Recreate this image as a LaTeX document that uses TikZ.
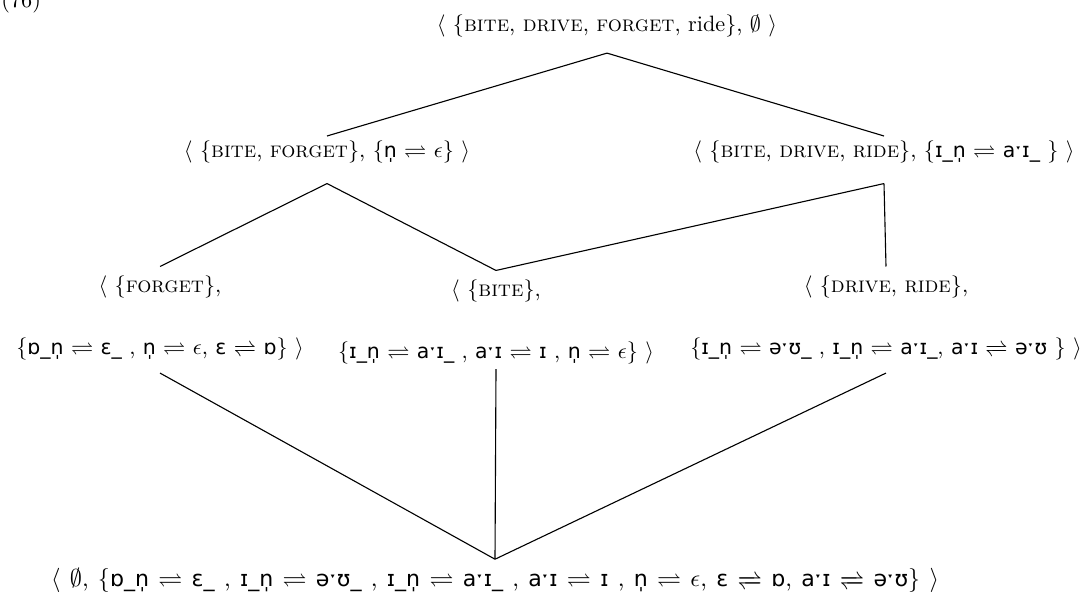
\documentclass[tikz,border=0pt]{standalone}
\usepackage{amssymb}
\usepackage{mathtools}
\usepackage{fontspec}
\usepackage{tikz}
\usetikzlibrary{positioning}
\newfontfamily\ipafont{DejaVu Sans}[Scale=0.92]
\newcommand{\ipa}[1]{{\ipafont #1}}
\newcommand{\rl}{\ $\rightleftharpoons$\ }
\newcommand{\rll}{\ $\xrightleftharpoons{\hphantom{\,}}$\ }
\newcommand{\lang}{$\langle$\ }
\newcommand{\rang}{\ $\rangle$}

\begin{document}
\begin{tikzpicture}[x=0.45pt, y=-0.45pt,
    state/.style={align=center, inner sep=2pt, font=\normalsize},
    cover/.style={line width=0.5pt}]
  \useasboundingbox (0,0) rectangle (1092,599);
  \node[anchor=base west, inner sep=0pt] (exno) at (1,8) {(76)};
  % lattice of states: set of words, set of rules
  \node[state] (Ntop) at (607,26)
    {\lang\{\textsc{bite}, \textsc{drive}, \textsc{forget}, ride\}, $\emptyset$\rang};
  \node[state] (Nbf) at (327,152)
    {\lang\{\textsc{bite}, \textsc{forget}\}, \{\ipa{n̩}\rl$\epsilon$\}\rang};
  \node[state] (Nbdr) at (884,152)
    {\lang\{\textsc{bite}, \textsc{drive}, \textsc{ride}\}, \{\ipa{ɪ\_n̩}\rl\ipa{aˑɪ\_} \}\rang};
  \node[state] (Nf) at (160,322)
    {\lang\{\textsc{forget}\},\\[16pt]
     \{\ipa{ɒ\_n̩}\rl\ipa{ɛ\_} , \ipa{n̩}\rl$\epsilon$, \ipa{ɛ}\rll\ipa{ɒ}\}\rang};
  \node[state] (Nb) at (496,322)
    {\lang\{\textsc{bite}\},\\[16pt]
     \{\ipa{ɪ\_n̩}\rl\ipa{aˑɪ\_} , \ipa{aˑɪ}\rl\ipa{ɪ} , \ipa{n̩}\rl$\epsilon$\}\rang};
  \node[state] (Ndr) at (886,322)
    {\lang\{\textsc{drive}, \textsc{ride}\},\\[16pt]
     \{\ipa{ɪ\_n̩}\rl\ipa{əˑʊ\_} , \ipa{ɪ\_n̩}\rl\ipa{aˑɪ\_}, \ipa{aˑɪ}\rll\ipa{əˑʊ} \}\rang};
  \node[state, font=\fontsize{10.8pt}{13pt}\selectfont] (Nbot) at (495,585)
    {\spaceskip=4.2pt
     \lang$\emptyset$, \{\ipa{ɒ\_n̩}\rl\ipa{ɛ\_} , \ipa{ɪ\_n̩}\rl\ipa{əˑʊ\_} ,
     \ipa{ɪ\_n̩}\rl\ipa{aˑɪ\_} , \ipa{aˑɪ}\rl\ipa{ɪ} , \ipa{n̩}\rl$\epsilon$,
     \ipa{ɛ}\rll\ipa{ɒ}, \ipa{aˑɪ}\rll\ipa{əˑʊ}\}\rang};
  % covering lines (upper end shift / lower end shift)
  \foreach \a/\da/\b/\db in {Ntop/-5pt/Nbf/0pt, Ntop/-5pt/Nbdr/0pt,
                             Nbf/-7pt/Nf/2pt, Nbf/-7pt/Nb/2pt,
                             Nbdr/-7pt/Nb/2pt, Nbdr/-7pt/Ndr/2pt,
                             Nf/0pt/Nbot/2pt, Nb/0pt/Nbot/2pt, Ndr/0pt/Nbot/2pt}{
    \draw[cover] ([yshift=\da]\a.south) -- ([yshift=\db]\b.north);
  }
\end{tikzpicture}
\end{document}
